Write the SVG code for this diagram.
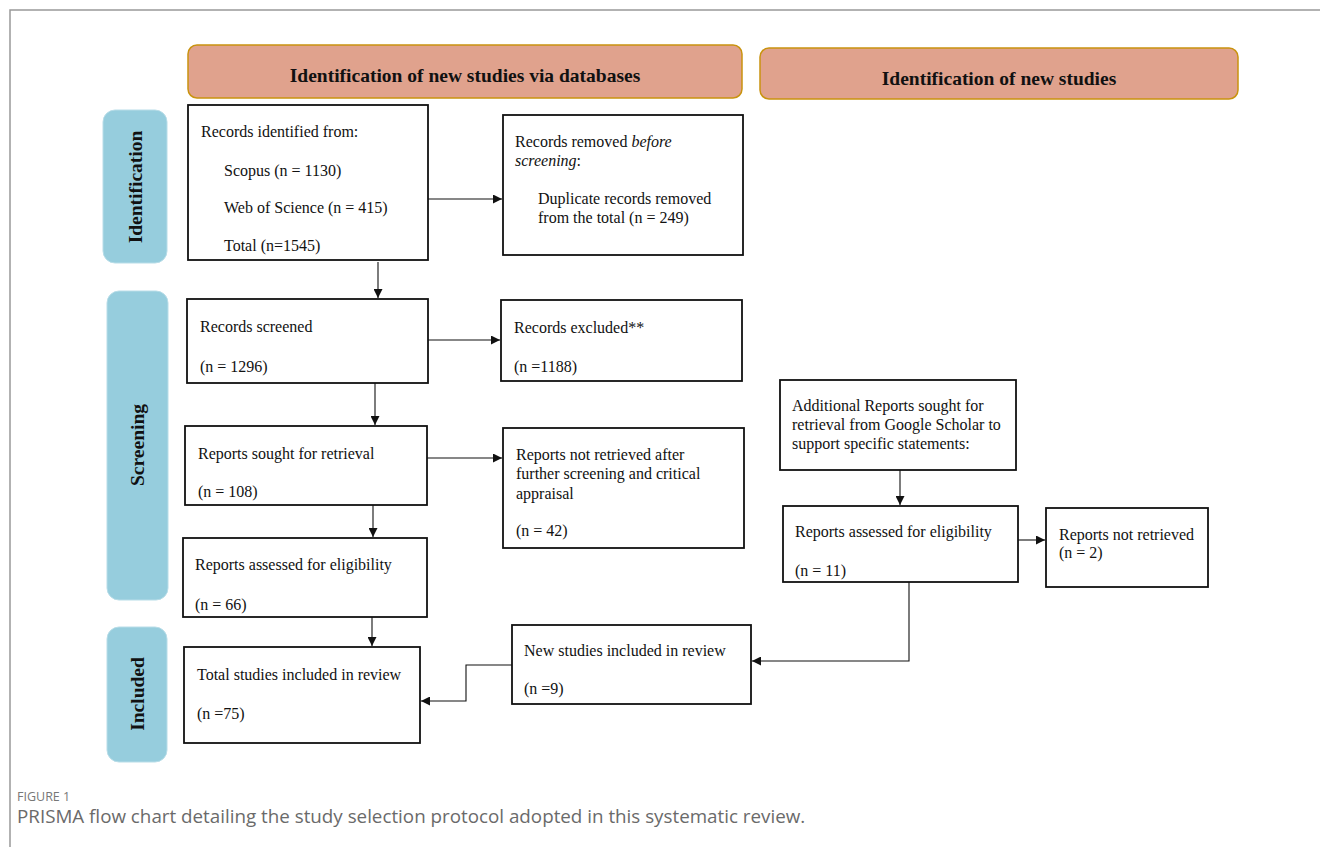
<svg xmlns="http://www.w3.org/2000/svg" width="1320" height="847" viewBox="0 0 1320 847">
<defs>
<style>
.hdr{fill:#e0a28d;stroke:#c9930f;stroke-width:1.5}
.side{fill:#96cddd;stroke:#b8dde8;stroke-width:1}
.box{fill:#fff;stroke:#111;stroke-width:1.8}
.t{font-family:"Liberation Serif","Times New Roman",serif;font-size:16px;fill:#111}
.hb{font-family:"Liberation Serif","Times New Roman",serif;font-size:19.5px;font-weight:bold;fill:#111}
.sb{font-family:"Liberation Serif","Times New Roman",serif;font-size:19.5px;font-weight:bold;fill:#111}
.ln{fill:none;stroke:#111;stroke-width:1.1}
.cap1{font-family:"Open Sans",sans-serif;font-size:12.5px;fill:#777}
.cap2{font-family:"Open Sans",sans-serif;font-size:18.8px;fill:#6a6a6a}
</style>
<marker id="ah" viewBox="0 0 10 10" refX="10" refY="5" markerWidth="9" markerHeight="9" markerUnits="userSpaceOnUse" orient="auto">
<path d="M0,0 L10,5 L0,10 z" fill="#111"/>
</marker>
</defs>
<rect x="0" y="0" width="1320" height="847" fill="#fff"/>
<rect x="10" y="10" width="1330" height="860" fill="none" stroke="#999" stroke-width="1.5"/>

<g id="hdr1"><rect class="hdr" x="188" y="45" width="554" height="53" rx="9"/><text class="hb" x="465" y="82" text-anchor="middle">Identification of new studies via databases</text></g>
<g id="hdr2"><rect class="hdr" x="760" y="48" width="478" height="51" rx="9"/><text class="hb" x="999" y="85" text-anchor="middle">Identification of new studies</text></g>

<g id="side-identification"><rect class="side" x="103" y="110" width="64" height="153" rx="12"/><text class="sb" transform="translate(142,187) rotate(-90)" text-anchor="middle">Identification</text></g>
<g id="side-screening"><rect class="side" x="107" y="291" width="61" height="309" rx="12"/><text class="sb" transform="translate(144,445) rotate(-90)" text-anchor="middle">Screening</text></g>
<g id="side-included"><rect class="side" x="107" y="627" width="60" height="135" rx="12"/><text class="sb" transform="translate(144,694) rotate(-90)" text-anchor="middle">Included</text></g>

<g id="n-identified"><rect class="box" x="188" y="105" width="240" height="155"/>
<text class="t" x="201" y="137">Records identified from:</text>
<text class="t" x="224" y="176">Scopus (n = 1130)</text>
<text class="t" x="224" y="213">Web of Science (n = 415)</text>
<text class="t" x="224" y="251">Total (n=1545)</text></g>

<g id="n-removed"><rect class="box" x="503" y="115" width="240" height="140"/>
<text class="t" x="515" y="147">Records removed <tspan font-style="italic">before</tspan></text>
<text class="t" x="515" y="166"><tspan font-style="italic">screening</tspan>:</text>
<text class="t" x="538" y="204">Duplicate records removed</text>
<text class="t" x="538" y="223">from the total (n = 249)</text></g>

<g id="n-screened"><rect class="box" x="187" y="299" width="241" height="84"/>
<text class="t" x="200" y="332">Records screened</text>
<text class="t" x="200" y="372">(n = 1296)</text></g>

<g id="n-excluded"><rect class="box" x="501" y="300" width="241" height="81"/>
<text class="t" x="514" y="333">Records excluded**</text>
<text class="t" x="514" y="372">(n =1188)</text></g>

<g id="n-sought"><rect class="box" x="185" y="426" width="242" height="79"/>
<text class="t" x="198" y="459">Reports sought for retrieval</text>
<text class="t" x="198" y="497">(n = 108)</text></g>

<g id="n-notretrieved"><rect class="box" x="503" y="428" width="241" height="120"/>
<text class="t" x="516" y="460">Reports not retrieved after</text>
<text class="t" x="516" y="479">further screening and critical</text>
<text class="t" x="516" y="499">appraisal</text>
<text class="t" x="516" y="536">(n = 42)</text></g>

<g id="n-assessed"><rect class="box" x="183" y="538" width="244" height="79"/>
<text class="t" x="195" y="570">Reports assessed for eligibility</text>
<text class="t" x="195" y="610">(n = 66)</text></g>

<g id="n-total"><rect class="box" x="184" y="647" width="236" height="96"/>
<text class="t" x="197" y="680">Total studies included in review</text>
<text class="t" x="197" y="719">(n =75)</text></g>

<g id="n-new"><rect class="box" x="512" y="625" width="239" height="79"/>
<text class="t" x="524" y="656">New studies included in review</text>
<text class="t" x="524" y="694">(n =9)</text></g>

<g id="n-additional"><rect class="box" x="780" y="380" width="236" height="90"/>
<text class="t" x="792" y="411">Additional Reports sought for</text>
<text class="t" x="792" y="430">retrieval from Google Scholar to</text>
<text class="t" x="792" y="449">support specific statements:</text></g>

<g id="n-assessed2"><rect class="box" x="783" y="506" width="235" height="76"/>
<text class="t" x="795" y="537">Reports assessed for eligibility</text>
<text class="t" x="795" y="576">(n = 11)</text></g>

<g id="n-notretrieved2"><rect class="box" x="1046" y="508" width="162" height="79"/>
<text class="t" x="1059" y="540">Reports not retrieved</text>
<text class="t" x="1059" y="558">(n = 2)</text></g>

<g id="connectors">
<path class="ln" d="M428,199 H502" marker-end="url(#ah)"/>
<path class="ln" d="M378,262 V298" marker-end="url(#ah)"/>
<path class="ln" d="M428,340 H500" marker-end="url(#ah)"/>
<path class="ln" d="M375,383 V425" marker-end="url(#ah)"/>
<path class="ln" d="M427,458 H502" marker-end="url(#ah)"/>
<path class="ln" d="M373,505 V537" marker-end="url(#ah)"/>
<path class="ln" d="M372,617 V646" marker-end="url(#ah)"/>
<path class="ln" d="M512,665 H466 V701 H421" marker-end="url(#ah)"/>
<path class="ln" d="M900,470 V505" marker-end="url(#ah)"/>
<path class="ln" d="M1018,540 H1045" marker-end="url(#ah)"/>
<path class="ln" d="M909,582 V661 H752" marker-end="url(#ah)"/>
</g>

<text class="cap1" x="17" y="801">FIGURE 1</text>
<text class="cap2" x="17" y="823">PRISMA flow chart detailing the study selection protocol adopted in this systematic review.</text>
</svg>
